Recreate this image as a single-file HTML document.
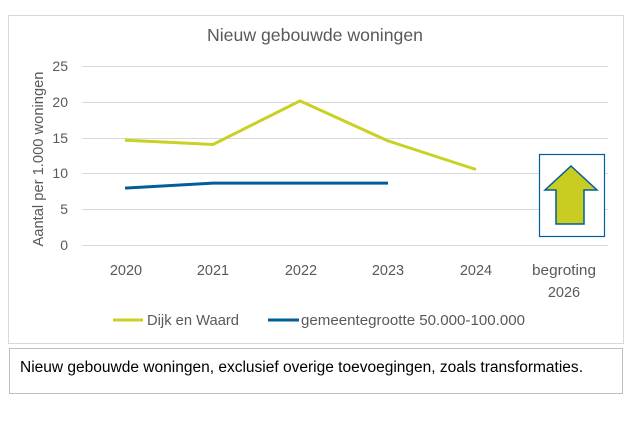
<!DOCTYPE html>
<html><head><meta charset="utf-8"><style>
body{margin:0;background:#fff;width:626px;height:418px;overflow:hidden}
svg{font-family:"Liberation Sans",sans-serif}
</style></head><body>
<svg width="626" height="418" viewBox="0 0 626 418">
<rect x="8.5" y="15.5" width="615" height="328" fill="#fff" stroke="#d9d9d9"/>
<rect x="9.5" y="348.5" width="613" height="45" fill="#fff" stroke="#bfbfbf"/>
<text x="315" y="41" text-anchor="middle" font-size="17.5" fill="#595959" textLength="216" lengthAdjust="spacingAndGlyphs">Nieuw gebouwde woningen</text>
<g stroke="#d9d9d9" stroke-width="1">
<line x1="82" x2="608" y1="66.5" y2="66.5"/><line x1="82" x2="608" y1="102.5" y2="102.5"/>
<line x1="82" x2="608" y1="138.5" y2="138.5"/><line x1="82" x2="608" y1="173.5" y2="173.5"/>
<line x1="82" x2="608" y1="209.5" y2="209.5"/><line x1="82" x2="608" y1="245.5" y2="245.5"/>
</g>
<g font-size="14" fill="#595959" text-anchor="end">
<text x="68" y="71">25</text><text x="68" y="107">20</text><text x="68" y="143">15</text>
<text x="68" y="178">10</text><text x="68" y="214">5</text><text x="68" y="250">0</text>
</g>
<text transform="translate(43,159) rotate(-90)" text-anchor="middle" font-size="14.5" fill="#595959" textLength="175" lengthAdjust="spacingAndGlyphs">Aantal per 1.000 woningen</text>
<g font-size="14.5" fill="#595959" text-anchor="middle">
<text x="126" y="275">2020</text><text x="213" y="275">2021</text><text x="301" y="275">2022</text>
<text x="388" y="275">2023</text><text x="476" y="275">2024</text>
<text x="564" y="275" textLength="64" lengthAdjust="spacingAndGlyphs">begroting</text><text x="564" y="297">2026</text>
</g>
<polyline fill="none" stroke="#c9d122" stroke-width="3" points="125,140.2 213,144.5 300,100.9 388,140.9 476,169.5"/>
<polyline fill="none" stroke="#005f9a" stroke-width="3" points="125,188.1 213,183.1 300,183.1 388,183.1"/>
<rect x="539.5" y="154.5" width="65" height="82" fill="#fff" stroke="#005f9a" stroke-width="1.2"/>
<polygon points="571,166 597,190 584,190 584,224 556,224 556,190 545,190" fill="#c9cd22" stroke="#005f9a" stroke-width="1.5"/>
<line x1="113" x2="143" y1="320" y2="320" stroke="#c9d122" stroke-width="3"/>
<text x="147" y="325" font-size="15" fill="#595959" textLength="92" lengthAdjust="spacingAndGlyphs">Dijk en Waard</text>
<line x1="268" x2="299" y1="320" y2="320" stroke="#005f9a" stroke-width="3"/>
<text x="301" y="325" font-size="15" fill="#595959" textLength="224" lengthAdjust="spacingAndGlyphs">gemeentegrootte 50.000-100.000</text>
<text x="20" y="372" font-size="15.5" fill="#000" textLength="563" lengthAdjust="spacingAndGlyphs">Nieuw gebouwde woningen, exclusief overige toevoegingen, zoals transformaties.</text>
</svg>
</body></html>
